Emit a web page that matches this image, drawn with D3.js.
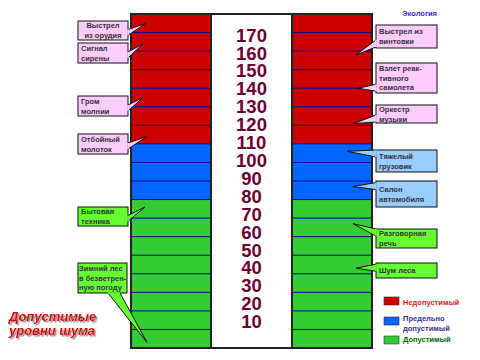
<!DOCTYPE html>
<html>
<head>
<meta charset="utf-8">
<script src="https://cdn.jsdelivr.net/npm/d3@7"></script>
<style>
  body { margin: 0; background: #fff; }
  text { font-family: "Liberation Sans", Arial, sans-serif; }
</style>
</head>
<body>
<div id="chart"></div>
<script>
// noise scale, dB
var levels = [170, 160, 150, 140, 130, 120, 110, 100, 90, 80, 70, 60, 50, 40, 30, 20, 10];
var zoneNames = ["Допустимый", "Предельно допустимый", "Недопустимый"];
var zoneFrom = [0, 80, 110];
var zoneTo = [80, 110, 180];

// noise sources: label lines and level (dB) the pointer marks
var leftSources = [
  ["Выстрел", "из орудия"],
  ["Сигнал", "сирены"],
  ["Гром", "молнии"],
  ["Отбойный", "молоток"],
  ["Бытовая", "техника"],
  ["Зимний лес", "в безветрен-", "ную погоду"]
];
var leftLevels = [175, 164, 135, 114, 76, 3];
var leftZones = [2, 2, 2, 2, 0, 0];

var rightSources = [
  ["Выстрел из", "винтовки"],
  ["Взлет реак-", "тивного", "самолета"],
  ["Оркестр", "музыки"],
  ["Тяжелый", "грузовик"],
  ["Салон", "автомобиля"],
  ["Разговорная", "речь"],
  ["Шум леса"]
];
var rightLevels = [158, 140, 121, 106, 87, 67, 43];
var rightZones = [2, 2, 2, 1, 1, 0, 0];

var width = 480, height = 360;
var zoneColors = ["#33cc33", "#0066ff", "#cc0000"];
var boxColors = ["#66ff33", "#99ccff", "#ffccff"];
var legendText = ["#006600", "#333399", "#dd2222"];

var svg = d3.select("#chart").append("svg")
    .attr("width", width)
    .attr("height", height);

var shadow = svg.append("defs").append("filter").attr("id", "shadow")
    .attr("x", "-10%").attr("y", "-30%").attr("width", "130%").attr("height", "160%");
shadow.append("feDropShadow")
    .attr("dx", 1.5).attr("dy", 1.5).attr("stdDeviation", 0.4)
    .attr("flood-color", "#888").attr("flood-opacity", 1);

var y = d3.scaleLinear().domain([0, 180]).range([348, 14]);
var leftX = [131, 211], centerX = [211, 292], rightX = [292, 372];

var bands = d3.range(0, 180, 10);
function zoneOf(v) {
  for (var i = 0; i < zoneNames.length; i++) if (v >= zoneFrom[i] && v < zoneTo[i]) return i;
  return 2;
}

// colored bars
[leftX, rightX].forEach(function(xr) {
  svg.append("g").selectAll("rect")
    .data(bands)
    .enter().append("rect")
    .attr("x", xr[0])
    .attr("y", function(d) { return y(d + 10); })
    .attr("width", xr[1] - xr[0])
    .attr("height", function(d) { return y(d) - y(d + 10); })
    .style("fill", function(d) { return zoneColors[zoneOf(d)]; });

  svg.append("g").selectAll("line")
    .data(bands.slice(1))
    .enter().append("line")
    .attr("x1", xr[0]).attr("x2", xr[1])
    .attr("y1", function(d) { return y(d); })
    .attr("y2", function(d) { return y(d); })
    .style("stroke", "#00008b")
    .style("stroke-width", 1);
});

// frame
var frame = svg.append("g").style("stroke", "#222").style("stroke-width", 2);
[leftX[0], centerX[0], centerX[1], rightX[1]].forEach(function(x) {
  frame.append("line").attr("x1", x).attr("x2", x).attr("y1", y(180) - 1).attr("y2", y(0) + 1);
});
frame.append("line").attr("x1", leftX[0]).attr("x2", rightX[1]).attr("y1", y(180)).attr("y2", y(180));
frame.append("line").attr("x1", leftX[0]).attr("x2", rightX[1]).attr("y1", y(0)).attr("y2", y(0));

// center numbers
var ly = d3.scalePoint().domain(levels).range([35, 321.5]);
svg.append("g").selectAll("text")
  .data(levels)
  .enter().append("text")
  .attr("x", (centerX[0] + centerX[1]) / 2)
  .attr("y", function(d) { return ly(d); })
  .attr("dy", "0.36em")
  .attr("text-anchor", "middle")
  .style("font-size", "18.5px")
  .style("font-weight", "bold")
  .style("fill", "#6b0033")
  .text(function(d) { return d; });

// callouts: box layout [x, y, w, h, tipX]
var leftBoxes = [
  [78, 21, 50, 19, 146], [78, 43, 50, 20, 143], [78, 96, 50, 20, 143],
  [78, 134, 50, 20, 147], [78, 207, 50, 19, 145], [78, 263, 49, 30, 147]
];
var rightBoxes = [
  [376, 25, 61, 23, 356], [376, 63, 61, 30, 358], [376, 105, 61, 18, 354],
  [376, 150, 61, 22, 347], [376, 181, 61, 26, 353], [376, 229, 61, 19, 353],
  [376, 263, 61, 15, 356]
];

function drawCallout(lines, level, zone, b, side, centered) {
  var g = svg.append("g");
  var tx = b[4], ty = y(level), pts;
  if (side === "left" && lines.length === 3) {
    pts = [[b[0] + 30, b[1] + b[3]], [tx, ty], [b[0] + 42, b[1] + b[3]]];
  } else if (side === "left") {
    pts = [[b[0] + b[2], b[1] + b[3] * 0.45], [tx, ty], [b[0] + b[2], b[1] + b[3] * 0.75]];
  } else {
    var by = Math.min(Math.max(ty, b[1] + 4), b[1] + b[3] - 4);
    pts = [[b[0], by - 4], [tx, ty], [b[0], by + 3]];
  }
  g.append("rect")
    .attr("x", b[0]).attr("y", b[1]).attr("width", b[2]).attr("height", b[3])
    .style("fill", boxColors[zone]).style("stroke", "#111").style("stroke-width", 1);
  g.append("path")
    .attr("d", "M" + pts[0] + "L" + pts[1] + "L" + pts[2])
    .style("fill", boxColors[zone]).style("stroke", "#111").style("stroke-width", 1);
  // cover the box edge under the pointer base
  g.append("path")
    .attr("d", "M" + pts[0] + "L" + pts[2])
    .style("stroke", boxColors[zone]).style("stroke-width", 1.5);
  var lh = lines.length === 3 ? 9.5 : 10;
  var top = b[1] + b[3] / 2 - (lines.length - 1) * lh / 2;
  g.selectAll("text.l")
    .data(lines)
    .enter().append("text")
    .attr("x", centered ? b[0] + b[2] / 2 : b[0] + (lines.length === 3 && side === "left" ? 1 : 3))
    .attr("y", function(d, i) { return top + i * lh; })
    .attr("dy", "0.35em")
    .attr("text-anchor", centered ? "middle" : "start")
    .style("font-size", "7.5px")
    .style("font-weight", "bold")
    .style("fill", "#333")
    .text(function(d) { return d; });
}

leftSources.forEach(function(s, i) {
  drawCallout(s, leftLevels[i], leftZones[i], leftBoxes[i], "left", i === 0);
});
rightSources.forEach(function(s, i) {
  drawCallout(s, rightLevels[i], rightZones[i], rightBoxes[i], "right", false);
});

// legend
var legendOrder = [2, 1, 0];
var legendY = [297, 317, 336];
var legendTextY = [[302], [318, 328], [339.5]];
var legend = svg.append("g");
legendOrder.forEach(function(z, i) {
  legend.append("rect")
    .attr("x", 384).attr("y", legendY[i]).attr("width", 15).attr("height", 8)
    .style("fill", zoneColors[z]).style("stroke", "#333").style("stroke-width", 0.6);
  var words = z === 1 ? ["Предельно", "допустимый"] : [zoneNames[z]];
  words.forEach(function(w, j) {
    legend.append("text")
      .attr("x", 403).attr("y", legendTextY[i][j])
      .attr("dy", "0.35em")
      .style("font-size", "7.5px")
      .style("font-weight", "bold")
      .style("fill", legendText[z])
      .text(w);
  });
});

svg.append("text")
  .attr("x", 437).attr("y", 16)
  .attr("text-anchor", "end")
  .style("font-size", "7.5px")
  .style("font-weight", "bold")
  .style("fill", "#3333cc")
  .text("Экология");

// title with shadow
var titleLines = ["Допустимые", "уровни шума"];
titleLines.forEach(function(t, i) {
  svg.append("text")
    .attr("x", 9).attr("y", 321 + i * 13.5)
    .attr("filter", "url(#shadow)")
    .style("font-size", "13px")
    .style("font-weight", "bold")
    .style("font-style", "italic")
    .style("fill", "#dd0000")
    .text(t);
});
</script>
</body>
</html>
